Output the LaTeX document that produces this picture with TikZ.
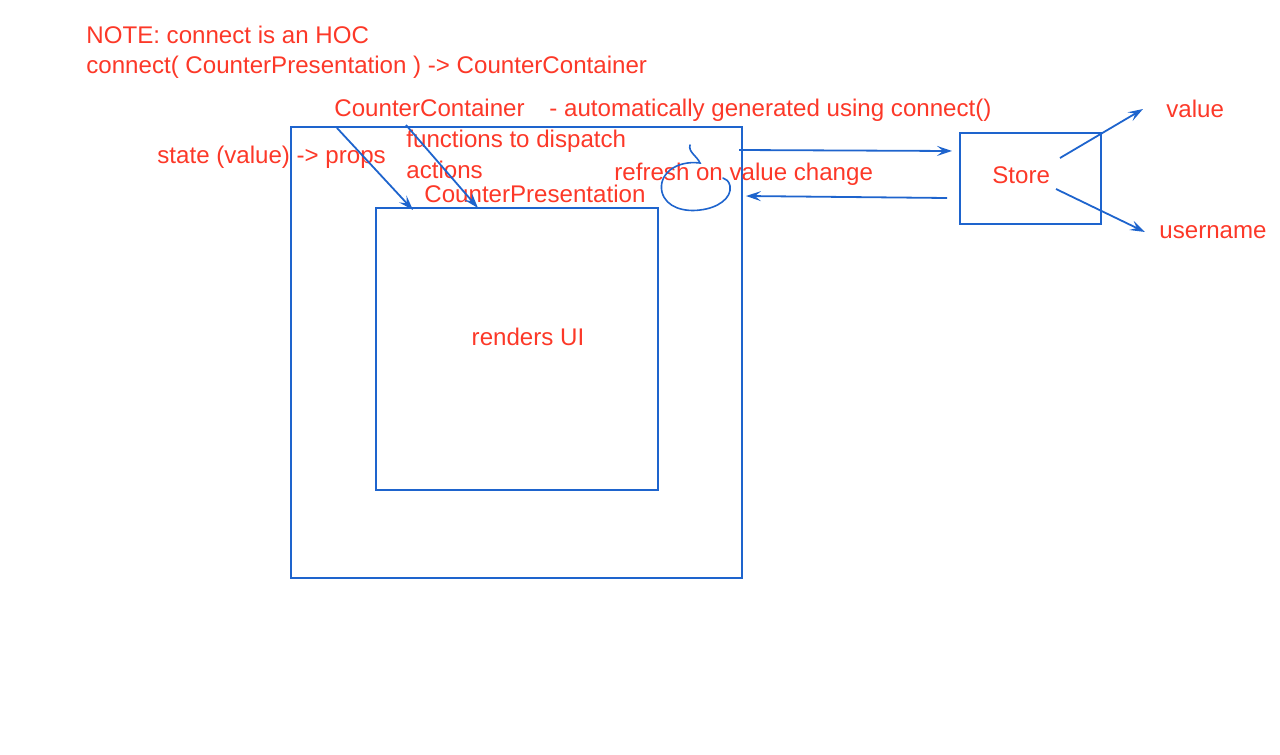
\documentclass[tikz,border=0pt]{standalone}
\usepackage{fontspec}
\setmainfont{Liberation Sans}
\usepackage{xcolor}
\usepackage{tikz}
\usetikzlibrary{arrows.meta}
\definecolor{pen}{RGB}{30,100,205}
\definecolor{ink}{RGB}{252,56,40}

\begin{document}
\begin{tikzpicture}[x=0.5pt,y=-0.5pt,>={Stealth[length=7.5pt,width=5pt,inset=3pt]},
    lbl/.style={text=ink,font=\fontsize{12.05}{14}\selectfont,inner sep=0pt,anchor=base west},
    box/.style={draw=pen,line width=1pt,inner sep=0pt},
    link/.style={draw=pen,line width=0.9pt,->}]
            \useasboundingbox (0,0) rectangle (1280,755);
            % Note
            \node[lbl] (note) at (86,43) {NOTE: connect is an HOC};
            \node[lbl] (hoc) at (86,73) {connect( CounterPresentation ) -> CounterContainer};
            % Container
            \node[box,minimum width=451pt*0.5,minimum height=451pt*0.5] (container) at (516.5,352.5) {};
            \node[lbl] (containername) at (334,116) {CounterContainer};
            \node[lbl] (generated) at (549,116) {- automatically generated using connect()};
            \node[lbl] (state) at (157,163) {state (value) -> props};
            \node[lbl] (functions) at (406,147) {functions to dispatch};
            \node[lbl] (actions) at (406,178) {actions};
            \node[lbl] (refresh) at (614,180) {refresh on value change};
            % Presentation
            \node[box,minimum width=282pt*0.5,minimum height=282pt*0.5] (presentation) at (517,349) {};
            \node[lbl] (presentationname) at (424,202) {CounterPresentation};
            \node[lbl,anchor=center] (renders) at (528,337) {renders UI};
            % Arrows into the presentation
            \coordinate (s1) at (337,128);
            \coordinate (e1) at (413,210);
            \coordinate (s2) at (406,125);
            \coordinate (e2) at (478,208);
            \draw[link] (s1) -- (e1);
            \draw[link] (s2) -- (e2);
            % Refresh curl
            \draw[pen,line width=0.8pt,line cap=round] (690,145) .. controls (688,152) and (697,156) .. (700,163)
                .. controls (675,160) and (658,175) .. (662,192)
                .. controls (666,208) and (685,212) .. (700,210)
                .. controls (718,208) and (732,198) .. (730,186)
                .. controls (729,181) and (726,179) .. (723,178);
            % Store
            \node[box,minimum width=141pt*0.5,minimum height=91pt*0.5] (store) at (1030.5,178.5) {};
            \node[lbl] (storename) at (992,183) {Store};
            \node[lbl] (value) at (1166,117) {value};
            \node[lbl] (username) at (1159,238) {username};
            \coordinate (c1) at (739,150);
            \coordinate (c2) at (952,151);
            \coordinate (c3) at (947,198);
            \coordinate (c4) at (746,196);
            \draw[link] (c1) -- (c2);
            \draw[link] (c3) -- (c4);
            \coordinate (v1) at (1060,158);
            \coordinate (v2) at (1143,109);
            \coordinate (u1) at (1056,189);
            \coordinate (u2) at (1145,232);
            \draw[link] (v1) -- (v2);
            \draw[link] (u1) -- (u2);
\end{tikzpicture}
\end{document}
